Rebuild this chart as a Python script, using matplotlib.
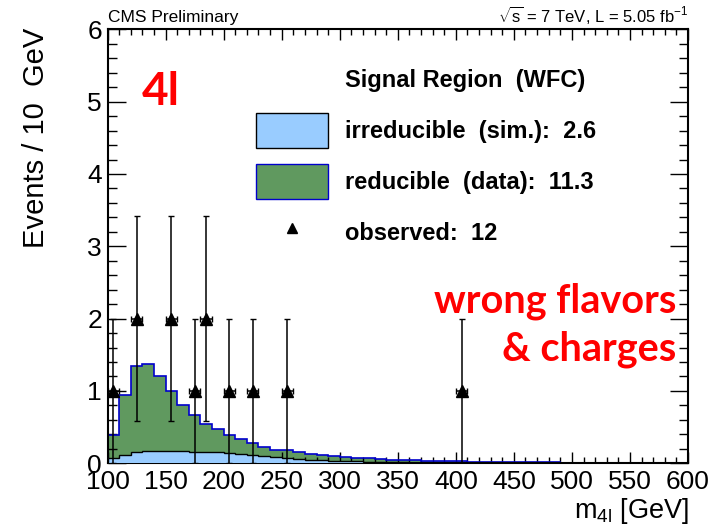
import numpy as np
import matplotlib.pyplot as plt
from matplotlib.patches import Patch
from matplotlib.lines import Line2D
from matplotlib.ticker import MultipleLocator

# 10 GeV bins from 100 to 600 GeV
bin_edges = np.arange(100, 610, 10)

# stacked total (irreducible + reducible), events / 10 GeV
total_bkg = [0.39, 0.95, 1.34, 1.37, 1.21, 1.00, 0.81, 0.67, 0.55, 0.47,
             0.39, 0.33, 0.28, 0.23, 0.19, 0.19, 0.15, 0.13, 0.115, 0.10,
             0.088, 0.078, 0.068, 0.060, 0.052, 0.046, 0.041, 0.037, 0.033, 0.030,
             0.027, 0.024, 0.022, 0.020, 0.018, 0.016, 0.015, 0.013, 0.012, 0.011,
             0.010, 0.009, 0.008, 0.008, 0.007, 0.006, 0.006, 0.005, 0.005, 0.004]

irreducible = [0.07, 0.115, 0.15, 0.175, 0.175, 0.17, 0.165, 0.16, 0.15, 0.15,
               0.14, 0.13, 0.115, 0.10, 0.085, 0.075, 0.06, 0.05, 0.042, 0.035,
               0.03, 0.025, 0.021, 0.018, 0.015, 0.013, 0.011, 0.010, 0.009, 0.008,
               0.007, 0.006, 0.005, 0.005, 0.004, 0.004, 0.003, 0.003, 0.003, 0.002,
               0.002, 0.002, 0.002, 0.001, 0.001, 0.001, 0.001, 0.001, 0.001, 0.001]

obs_mass = [105, 125, 155, 175, 185, 205, 225, 255, 405]
obs_counts = np.array([1, 2, 2, 1, 2, 1, 1, 1, 1])

legend_labels = ['Signal Region  (WFC)', 'irreducible  (sim.):  2.6',
                 'reducible  (data):  11.3', 'observed:  12']

green = '#60995f'
lightblue = '#99ccff'

narrow = ['Liberation Sans Narrow', 'Liberation Sans']
plt.rcParams['font.family'] = narrow
plt.rcParams['mathtext.fontset'] = 'custom'
plt.rcParams['mathtext.rm'] = 'Liberation Sans'
plt.rcParams['mathtext.it'] = 'Liberation Sans'

fig = plt.figure(figsize=(7.14, 5.29), dpi=100)
ax = fig.add_axes([0.1506, 0.1242, 0.8130, 0.8204])

ax.stairs(total_bkg, bin_edges, fill=True, color=green, zorder=1)
ax.stairs(total_bkg, bin_edges, baseline=0, color='#0000cc', lw=1.2, zorder=2)
ax.stairs(irreducible, bin_edges, fill=True, color=lightblue, zorder=3)
ax.stairs(irreducible, bin_edges, baseline=0, color='black', lw=1.0, zorder=4)

ax.errorbar(obs_mass, obs_counts, yerr=np.sqrt(obs_counts), xerr=5,
            fmt='^', color='black', ms=8, lw=1.1, capsize=2, zorder=5)

ax.set_xlim(100, 600)
ax.set_ylim(0, 6)
ax.xaxis.set_major_locator(MultipleLocator(50))
ax.xaxis.set_minor_locator(MultipleLocator(10))
ax.yaxis.set_major_locator(MultipleLocator(1))
ax.yaxis.set_minor_locator(MultipleLocator(0.2))
ax.tick_params(which='both', direction='in', top=True, right=True, width=1,
               labelsize=19)
ax.tick_params(axis='y', which='major', length=13, pad=4)
ax.tick_params(axis='y', which='minor', length=6.5)
ax.tick_params(axis='x', which='major', length=8, pad=5)
ax.tick_params(axis='x', which='minor', length=4.3)
for s in ax.spines.values():
    s.set_linewidth(1.5)

fig.text(36 / 714, 1 - 28 / 529, 'Events / 10  GeV', rotation=90,
         ha='center', va='top', fontsize=21)
fig.text(689 / 714, 1 - 518 / 529, r'm$_{\mathrm{4l}}$ [GeV]',
         ha='right', va='baseline', fontsize=19.5)

fig.text(108 / 714, 1 - 22 / 529, 'CMS Preliminary', fontsize=12.5, va='baseline')
fig.text(688 / 714, 1 - 22 / 529, r'$\sqrt{\mathrm{s}}$ = 7 TeV, L = 5.05 fb$^{\mathrm{-1}}$',
         fontsize=12, ha='right', va='baseline')

handles = [Line2D([], [], linestyle='none'),
           Patch(facecolor=lightblue, edgecolor='black', lw=1),
           Patch(facecolor=green, edgecolor='#0000cc', lw=1),
           Line2D([], [], marker='^', color='black', linestyle='none', ms=7)]
ax.legend(handles, legend_labels, loc='upper left',
          bbox_to_anchor=(256 / 714, 1 - 62 / 529), bbox_transform=fig.transFigure,
          frameon=False, prop=dict(family='Liberation Sans', weight='bold', size=17),
          handlelength=3.05, handleheight=1.9, handletextpad=0.72,
          labelspacing=0.68, borderpad=0, borderaxespad=0)

ax.text(142 / 714, 1 - 105 / 529, '4l', transform=fig.transFigure,
        color='red', fontsize=33, fontweight='bold', family='Lato', va='baseline')
ax.text(676 / 714, 1 - 313 / 529, 'wrong flavors', transform=fig.transFigure,
        color='red', fontsize=28.5, fontweight='bold', family='Lato',
        ha='right', va='baseline')
ax.text(676 / 714, 1 - 361 / 529, '& charges', transform=fig.transFigure,
        color='red', fontsize=28.5, fontweight='bold', family='Lato',
        ha='right', va='baseline')

fig.savefig('out.png', dpi=100)
